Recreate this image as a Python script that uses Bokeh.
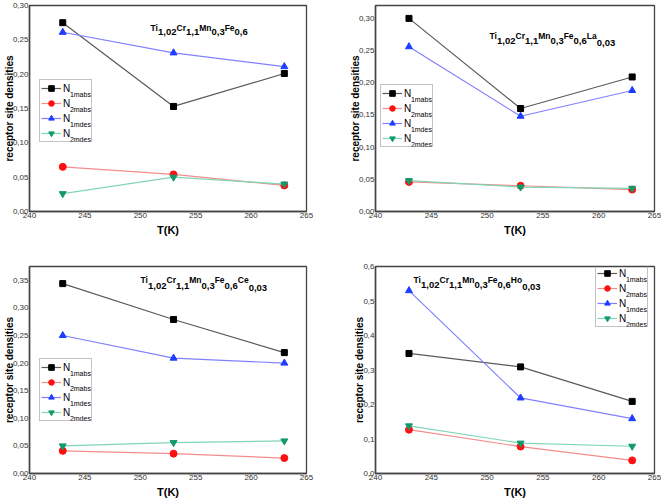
from bokeh.plotting import figure
from bokeh.layouts import gridplot
from bokeh.models import Range1d, FixedTicker, Label, Legend, LegendItem
from bokeh.embed import file_html
from bokeh.resources import INLINE

# ---------------- data ----------------
T = [243, 253, 263]

# Ti1,02Cr1,1Mn0,3Fe0,6
a_N1mabs = [0.275, 0.153, 0.201]
a_N2mabs = [0.065, 0.054, 0.038]
a_N1mdes = [0.261, 0.231, 0.211]
a_N2mdes = [0.026, 0.050, 0.040]

# Ti1,02Cr1,1Mn0,3Fe0,6La0,03
b_N1mabs = [0.300, 0.160, 0.209]
b_N2mabs = [0.046, 0.040, 0.034]
b_N1mdes = [0.256, 0.148, 0.188]
b_N2mdes = [0.048, 0.038, 0.036]

# Ti1,02Cr1,1Mn0,3Fe0,6Ce0,03
c_N1mabs = [0.344, 0.279, 0.219]
c_N2mabs = [0.041, 0.036, 0.028]
c_N1mdes = [0.250, 0.209, 0.200]
c_N2mdes = [0.050, 0.056, 0.059]

# Ti1,02Cr1,1Mn0,3Fe0,6Ho0,03
d_N1mabs = [0.348, 0.309, 0.209]
d_N2mabs = [0.127, 0.078, 0.038]
d_N1mdes = [0.530, 0.219, 0.159]
d_N2mdes = [0.138, 0.088, 0.079]

series_subs = ["1mabs", "2mabs", "1mdes", "2mdes"]

x_ticks = [240, 245, 250, 255, 260, 265]
x_tick_labels = ["240", "245", "250", "255", "260", "265"]

y_ticks_030 = [0.0, 0.05, 0.10, 0.15, 0.20, 0.25, 0.30]
y_labels_030 = ["0,00", "0,05", "0,10", "0,15", "0,20", "0,25", "0,30"]
y_ticks_035 = [0.0, 0.05, 0.10, 0.15, 0.20, 0.25, 0.30, 0.35]
y_labels_035 = ["0,00", "0,05", "0,10", "0,15", "0,20", "0,25", "0,30", "0,35"]
y_ticks_06 = [0.0, 0.1, 0.2, 0.3, 0.4, 0.5, 0.6]
y_labels_06 = ["0,0", "0,1", "0,2", "0,3", "0,4", "0,5", "0,6"]

title_a = [("Ti", 0), ("1,02", 1), ("Cr", 0), ("1,1", 1), ("Mn", 0), ("0,3", 1), ("Fe", 0), ("0,6", 1)]
title_b = title_a + [("La", 0), ("0,03", 1)]
title_c = title_a + [("Ce", 0), ("0,03", 1)]
title_d = title_a + [("Ho", 0), ("0,03", 1)]

x_label = "T(K)"
y_label = "receptor site densities"

# ---------------- styles ----------------
FONT = "Liberation Sans"
line_colors = ["#5a5a5a", "#f58c8c", "#8080ff", "#80d6b6"]
marker_colors = ["#000000", "#ff1010", "#1f3dff", "#129a6a"]
markers = ["square", "circle", "triangle", "inverted_triangle"]
marker_sizes = [6, 7, 7, 7]

BOLD_W = {"T": 611, "i": 278, "C": 722, "r": 389, "M": 833, "n": 611, "F": 611,
          "e": 556, "L": 611, "a": 556, "H": 722, "o": 611, ",": 278}


def tw(s, size):
    return sum(BOLD_W.get(ch, 556) for ch in s) * size / 1000.0


def make_panel(width, height, borders, ymax, yt, yl, values, title, tpos, lpos):
    p = figure(width=width, height=height, x_range=Range1d(240, 265), y_range=Range1d(0, ymax),
               output_backend="svg", toolbar_location=None,
               min_border_left=borders[0], min_border_right=borders[1],
               min_border_top=borders[2], min_border_bottom=borders[3])
    p.background_fill_color = "white"
    p.border_fill_color = "white"
    p.outline_line_color = "#444444"
    p.outline_line_width = 1.3
    p.xgrid.visible = False
    p.ygrid.visible = False

    for ax in (p.xaxis[0], p.yaxis[0]):
        ax.axis_line_color = "#444444"
        ax.axis_line_width = 1.5
        ax.major_tick_in = 0
        ax.major_tick_out = 0
        ax.minor_tick_in = 0
        ax.minor_tick_out = 0
        ax.major_label_text_font = FONT
        ax.major_label_text_color = "#333333"
        ax.axis_label_text_font = FONT
        ax.axis_label_text_font_style = "bold"
        ax.axis_label_text_color = "#000000"

    p.xaxis.ticker = FixedTicker(ticks=x_ticks)
    p.xaxis.major_label_overrides = dict(zip(x_ticks, x_tick_labels))
    p.xaxis.major_label_text_font_size = "8px"
    p.xaxis.major_label_standoff = 1
    p.xaxis.axis_label = x_label
    p.xaxis.axis_label_text_font_size = "11px"
    p.xaxis.axis_label_standoff = 3

    p.yaxis.ticker = FixedTicker(ticks=yt)
    p.yaxis.major_label_overrides = dict(zip(yt, yl))
    p.yaxis.major_label_text_font_size = "8px"
    p.yaxis.major_label_standoff = 1
    p.yaxis.axis_label = y_label
    p.yaxis.axis_label_text_font_size = "10px"
    p.yaxis.axis_label_standoff = -5

    items = []
    for i, vals in enumerate(values):
        lr = p.line(T, vals, line_color=line_colors[i], line_width=1.2)
        sr = p.scatter(T, vals, marker=markers[i], size=marker_sizes[i],
                       fill_color=marker_colors[i], line_color=marker_colors[i])
        items.append(LegendItem(label="N", renderers=[lr, sr]))

    pad, gw, gh, sp, std, lw = 1, 20, 14, 1, 2, 27
    lx, ly = lpos
    legend = Legend(items=items, location=(lx, ly), orientation="vertical",
                    padding=pad, spacing=sp, margin=0, glyph_width=gw, glyph_height=gh,
                    label_height=gh, label_width=lw, label_standoff=std,
                    label_text_font=FONT, label_text_font_size="10px",
                    label_text_color="#000000",
                    border_line_color="#888888", border_line_width=1,
                    background_fill_alpha=0.0)
    p.add_layout(legend)
    lh = 2 * pad + 4 * gh + 3 * sp
    top = ly + lh
    for i, sub in enumerate(series_subs):
        cy = top - (pad + i * (gh + sp) + gh / 2.0)
        p.add_layout(Label(x=lx + pad + gw + std + 7.4, y=cy - 4.5, x_units="screen", y_units="screen",
                           text=sub, text_font=FONT, text_font_size="7px", text_color="#000000",
                           text_baseline="alphabetic", text_align="left", level="overlay"))

    x0, base_el, base_sub = tpos
    xo = x0
    n = len(title)
    for k, (txt, is_sub) in enumerate(title):
        size = 9.5 if is_sub else 8.5
        yb = base_sub if is_sub else base_el
        if is_sub and k == n - 1 and n > 8:
            yb += 2
        p.add_layout(Label(x=240, y=ymax, x_units="data", y_units="data",
                           x_offset=xo, y_offset=-yb, text=txt, text_font=FONT,
                           text_font_size="%gpx" % size, text_font_style="bold",
                           text_color="#000000", text_baseline="alphabetic", text_align="left",
                           level="overlay"))
        xo += tw(txt, size)
    return p


p1 = make_panel(330, 250, (27, 24, 5, 37), 0.30, y_ticks_030, y_labels_030,
                [a_N1mabs, a_N2mabs, a_N1mdes, a_N2mdes], title_a, (121, 22, 26), (10, 69))
p2 = make_panel(331, 250, (45, 7, 5, 39), 0.32, y_ticks_030, y_labels_030,
                [b_N1mabs, b_N2mabs, b_N1mdes, b_N2mdes], title_b, (114, 30, 35), (5, 64))
p3 = make_panel(330, 250, (27, 24, 16, 26), 0.375, y_ticks_035, y_labels_035,
                [c_N1mabs, c_N2mabs, c_N1mdes, c_N2mdes], title_c, (111, 13, 19), (10, 52))
p4 = make_panel(331, 250, (45, 7, 15, 26), 0.6, y_ticks_06, y_labels_06,
                [d_N1mabs, d_N2mabs, d_N1mdes, d_N2mdes], title_d, (38, 13, 18), (220, 146))

grid = gridplot([[p1, p2], [p3, p4]], toolbar_location=None)

open("out.html", "w").write(file_html(grid, INLINE))
